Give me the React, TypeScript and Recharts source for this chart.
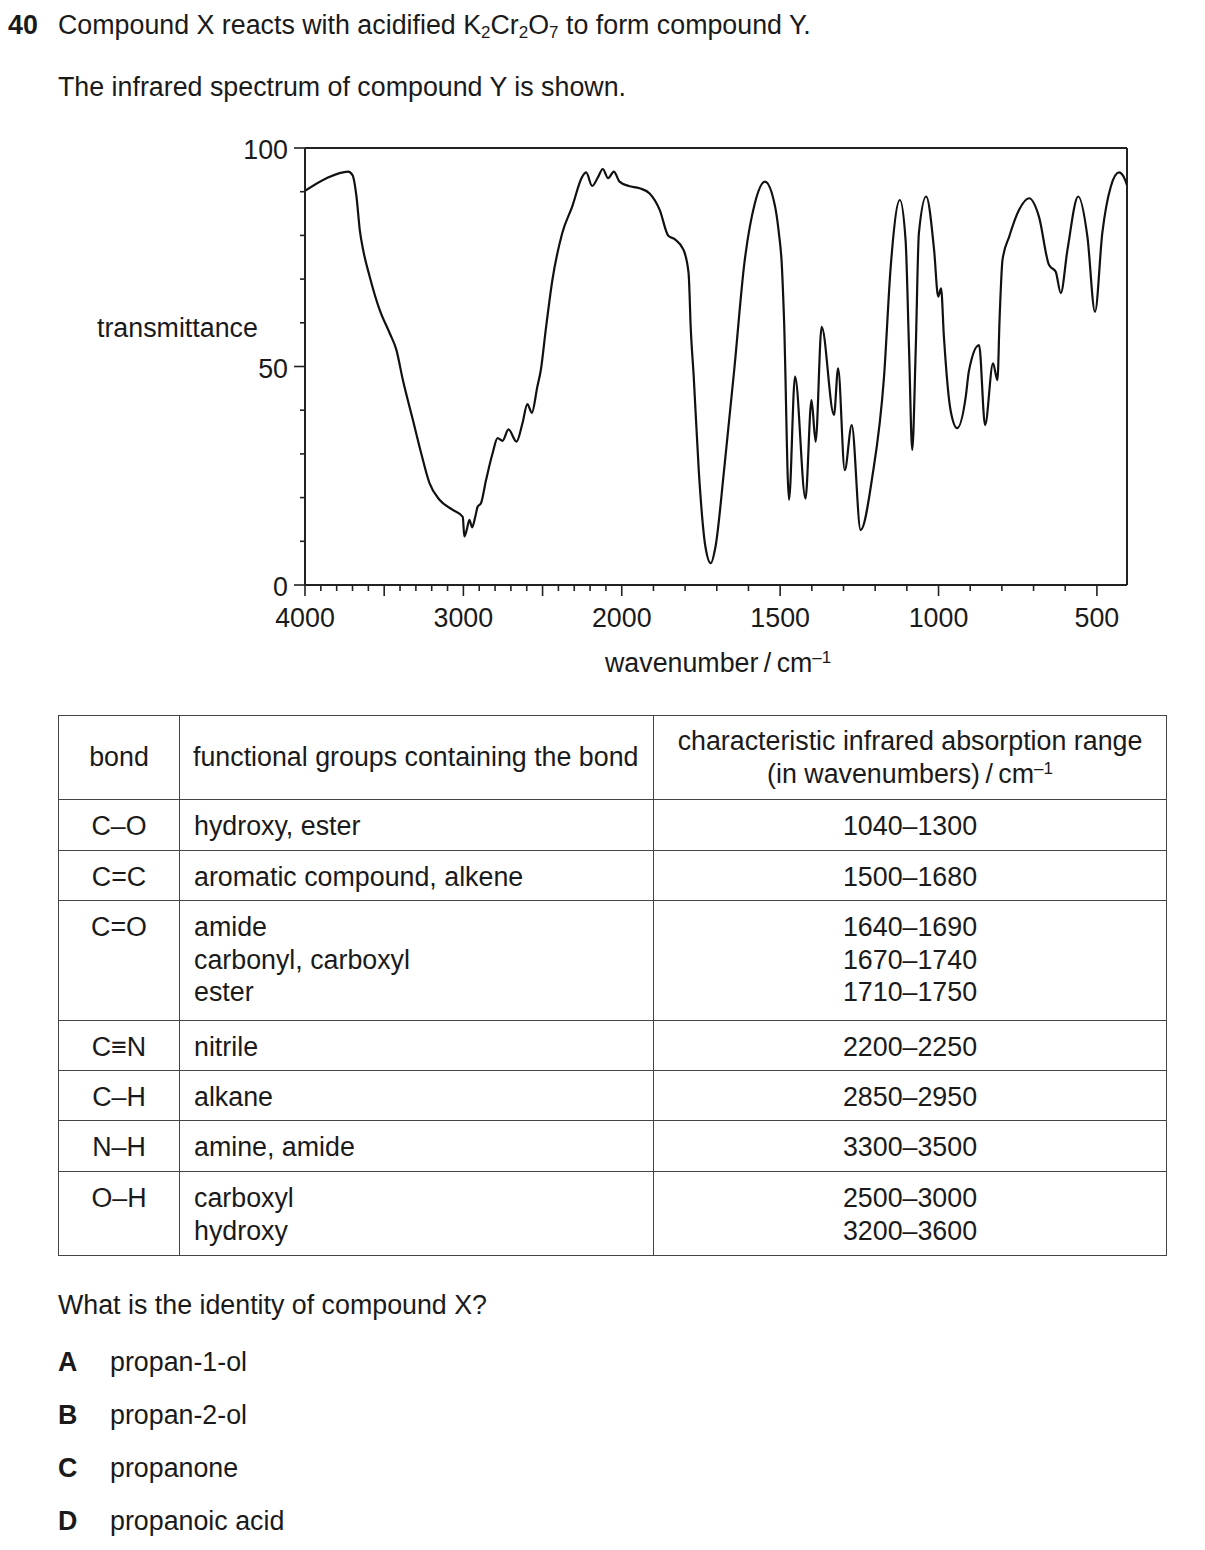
import React from 'react';
import { LineChart, Line, XAxis, YAxis, ReferenceLine } from 'recharts';

// spectrum: wavenumber / cm-1 and % transmittance
const wavenumbers = [
  4000, 3864, 3728, 3700, 3675, 3654, 3633, 3591, 3528, 3465, 3423, 3382, 3319, 3266, 3214, 3151,
  3067, 3004, 2994, 2979, 2962, 2945, 2925, 2910, 2889, 2857, 2816, 2784, 2753, 2715, 2665, 2627,
  2596, 2568, 2533, 2511, 2480, 2438, 2376, 2313, 2250, 2225, 2187, 2149, 2120, 2086, 2050, 2014,
  1978, 1944, 1912, 1880, 1853, 1832, 1805, 1789, 1782, 1773, 1757, 1736, 1719, 1704, 1677, 1645,
  1613, 1580, 1548, 1516, 1504, 1495, 1488, 1472, 1453, 1420, 1401, 1388, 1369, 1330, 1317, 1296,
  1274, 1246, 1209, 1172, 1151, 1122, 1104, 1093, 1083, 1072, 1062, 1039, 1014, 1001, 992, 983,
  962, 941, 914, 904, 872, 853, 828, 814, 807, 798, 777, 746, 714, 683, 651, 630,
  614, 593, 559, 530, 506, 483, 456, 430, 411, 405,
];
const transmittance = [
  90.2, 93.1, 94.6, 93.8, 88.9, 81.2, 76.7, 70.5, 62.9, 57.6, 53.8, 46.9, 37.8, 30.1, 23.3, 19.5,
  17.2, 15.6, 11.1, 12.6, 14.9, 13.2, 15.6, 17.9, 18.7, 24.0, 30.1, 33.6, 33.0, 35.6, 32.8, 37.0,
  41.4, 39.4, 45.4, 49.2, 58.4, 69.8, 80.5, 86.6, 93.4, 94.4, 91.3, 93.4, 95.2, 93.1, 94.6, 92.3,
  91.3, 90.8, 89.6, 85.8, 79.9, 79.1, 76.7, 71.3, 58.4, 47.9, 26.3, 8.8, 5.0, 8.8, 26.3, 49.2,
  73.6, 87.3, 92.3, 86.6, 80.5, 73.6, 61.4, 19.5, 47.7, 19.8, 42.3, 32.8, 59.1, 38.9, 49.6, 26.3,
  36.6, 12.6, 24.8, 47.7, 72.8, 88.1, 78.9, 53.8, 30.9, 53.8, 80.5, 88.9, 76.7, 66.0, 67.9, 56.8,
  40.0, 35.9, 43.1, 49.0, 54.9, 36.6, 50.7, 46.9, 61.4, 74.4, 79.7, 85.8, 88.5, 84.3, 73.2, 71.7,
  66.8, 76.7, 88.9, 79.7, 62.5, 80.5, 91.2, 94.4, 92.7, 91.5,
];

const xTickWavenumbers = [
  4000, 3900, 3800, 3700, 3600, 3500, 3400, 3300, 3200, 3100, 3000, 2900, 2800, 2700, 2600, 2500,
  2400, 2300, 2200, 2100, 2000, 1900, 1800, 1700, 1600, 1500, 1400, 1300, 1200, 1100, 1000, 900,
  800, 700, 600, 500,
];
const xMajor = [4000, 3500, 3000, 2500, 2000, 1500, 1000, 500];
const xLabelled = [4000, 3000, 2000, 1500, 1000, 500];
const yTicks = [0, 10, 20, 30, 40, 50, 60, 70, 80, 90, 100];
const yLabelled = [0, 50, 100];

const tableRows = [
  { bond: 'C–O', groups: ['hydroxy, ester'], ranges: ['1040–1300'], h: 51 },
  { bond: 'C=C', groups: ['aromatic compound, alkene'], ranges: ['1500–1680'], h: 50 },
  { bond: 'C=O', groups: ['amide', 'carbonyl, carboxyl', 'ester'], ranges: ['1640–1690', '1670–1740', '1710–1750'], h: 120 },
  { bond: 'C≡N', groups: ['nitrile'], ranges: ['2200–2250'], h: 50 },
  { bond: 'C–H', groups: ['alkane'], ranges: ['2850–2950'], h: 50 },
  { bond: 'N–H', groups: ['amine, amide'], ranges: ['3300–3500'], h: 51 },
  { bond: 'O–H', groups: ['carboxyl', 'hydroxy'], ranges: ['2500–3000', '3200–3600'], h: 84 },
];

const options = [
  { letter: 'A', text: 'propan-1-ol' },
  { letter: 'B', text: 'propan-2-ol' },
  { letter: 'C', text: 'propanone' },
  { letter: 'D', text: 'propanoic acid' },
];

// the axis is stretched x2 below 2000 cm-1
const toPos = (w: number) => (w >= 2000 ? (4000 - w) / 1000 : 2 + (2000 - w) / 500);
const fromPos = (p: number) => Math.round(p <= 2 ? 4000 - p * 1000 : 2000 - (p - 2) * 500);
const X_MAX = toPos(405);

const data = wavenumbers.map((w, i) => ({ p: toPos(w), t: transmittance[i] }));

const FONT = '"Liberation Sans", Arial, Helvetica, sans-serif';
const INK = '#1a1a1a';
const AXIS = '#222';

function XTick(props: any) {
  const { x, y, payload } = props;
  const w = fromPos(payload.value);
  const major = xMajor.includes(w);
  return (
    <g>
      <line x1={x} x2={x} y1={y} y2={y + (major ? 11 : 6)} stroke={AXIS} strokeWidth={1.6} />
      {xLabelled.includes(w) && (
        <text x={x} y={y + 42} textAnchor="middle" fontSize={26.8} fontFamily={FONT} fill={INK}>
          {w}
        </text>
      )}
    </g>
  );
}

function YTick(props: any) {
  const { x, y, payload } = props;
  const major = yLabelled.includes(payload.value);
  return (
    <g>
      <line x1={x} x2={x - (major ? 11 : 5)} y1={y} y2={y} stroke={AXIS} strokeWidth={1.6} />
      {major && (
        <text x={x - 17} y={y + 11} textAnchor="end" fontSize={26.8} fontFamily={FONT} fill={INK}>
          {payload.value}
        </text>
      )}
    </g>
  );
}

function Spectrum() {
  return (
    <LineChart width={960} height={560} data={data} margin={{ top: 28, right: 33, bottom: 0, left: 0 }}>
      <XAxis
        type="number"
        dataKey="p"
        domain={[0, X_MAX]}
        ticks={xTickWavenumbers.map(toPos)}
        interval={0}
        tick={(p: any) => <XTick {...p} />}
        tickLine={false}
        tickSize={0}
        tickMargin={0}
        height={95}
        axisLine={{ stroke: AXIS, strokeWidth: 2 }}
        allowDataOverflow
      />
      <YAxis
        type="number"
        domain={[0, 100]}
        ticks={yTicks}
        interval={0}
        tick={(p: any) => <YTick {...p} />}
        tickLine={false}
        tickSize={0}
        tickMargin={0}
        width={105}
        axisLine={{ stroke: AXIS, strokeWidth: 2 }}
      />
      <ReferenceLine y={100} stroke={AXIS} strokeWidth={2} />
      <ReferenceLine x={X_MAX} stroke={AXIS} strokeWidth={2} />
      <Line
        type="monotone"
        dataKey="t"
        stroke="#111"
        strokeWidth={2.2}
        dot={false}
        activeDot={false}
        isAnimationActive={false}
      />
    </LineChart>
  );
}

const cell: React.CSSProperties = {
  border: '1.5px solid #444',
  verticalAlign: 'top',
  paddingTop: 10,
  paddingBottom: 0,
  lineHeight: '32.5px',
};

export default function App() {
  const sub: React.CSSProperties = { fontSize: 17, verticalAlign: '-0.22em', lineHeight: 0 };
  const sup: React.CSSProperties = { fontSize: 17, verticalAlign: '0.55em', lineHeight: 0 };
  return (
    <div
      style={{
        position: 'absolute',
        left: 0,
        top: 0,
        width: 1205,
        height: 1550,
        background: '#fff',
        fontFamily: FONT,
        fontSize: 26.8,
        color: INK,
      }}
    >
      <div style={{ position: 'absolute', left: 8, top: 9, lineHeight: '32px', fontWeight: 700 }}>40</div>
      <div style={{ position: 'absolute', left: 58, top: 9, lineHeight: '32px', whiteSpace: 'nowrap' }}>
        Compound X reacts with acidified K<span style={sub}>2</span>Cr<span style={sub}>2</span>O
        <span style={sub}>7</span> to form compound Y.
      </div>
      <div style={{ position: 'absolute', left: 58, top: 71, lineHeight: '32px' }}>
        The infrared spectrum of compound Y is shown.
      </div>

      <div style={{ position: 'absolute', left: 200, top: 120 }}>
        <Spectrum />
      </div>
      <div style={{ position: 'absolute', left: 97, top: 312, lineHeight: '32px' }}>transmittance</div>
      <div style={{ position: 'absolute', left: 605, top: 647, lineHeight: '32px', whiteSpace: 'nowrap' }}>
        wavenumber{'\u2009'}/{'\u2009'}cm<span style={sup}>–1</span>
      </div>

      <table
        style={{
          position: 'absolute',
          left: 58,
          top: 715,
          width: 1108,
          borderCollapse: 'collapse',
          tableLayout: 'fixed',
          fontSize: 26.8,
        }}
      >
        <colgroup>
          <col style={{ width: 121 }} />
          <col style={{ width: 474 }} />
          <col style={{ width: 513 }} />
        </colgroup>
        <tbody>
          <tr style={{ height: 84 }}>
            <td style={{ ...cell, verticalAlign: 'middle', paddingTop: 0, textAlign: 'center' }}>bond</td>
            <td style={{ ...cell, verticalAlign: 'middle', paddingTop: 0, paddingLeft: 13 }}>
              functional groups containing the bond
            </td>
            <td style={{ ...cell, verticalAlign: 'middle', paddingTop: 0, textAlign: 'center' }}>
              characteristic infrared absorption range
              <br />
              (in wavenumbers){'\u2009'}/{'\u2009'}cm<span style={sup}>–1</span>
            </td>
          </tr>
          {tableRows.map((r) => (
            <tr key={r.bond} style={{ height: r.h }}>
              <td style={{ ...cell, textAlign: 'center' }}>{r.bond}</td>
              <td style={{ ...cell, paddingLeft: 14 }}>
                {r.groups.map((g) => (
                  <div key={g}>{g}</div>
                ))}
              </td>
              <td style={{ ...cell, textAlign: 'center' }}>
                {r.ranges.map((g) => (
                  <div key={g}>{g}</div>
                ))}
              </td>
            </tr>
          ))}
        </tbody>
      </table>

      <div style={{ position: 'absolute', left: 58, top: 1289, lineHeight: '32px' }}>
        What is the identity of compound X?
      </div>
      {options.map((o, i) => (
        <div key={o.letter} style={{ position: 'absolute', left: 58, top: 1346 + i * 53, lineHeight: '32px' }}>
          <span style={{ fontWeight: 700, display: 'inline-block', width: 52 }}>{o.letter}</span>
          {o.text}
        </div>
      ))}
    </div>
  );
}
